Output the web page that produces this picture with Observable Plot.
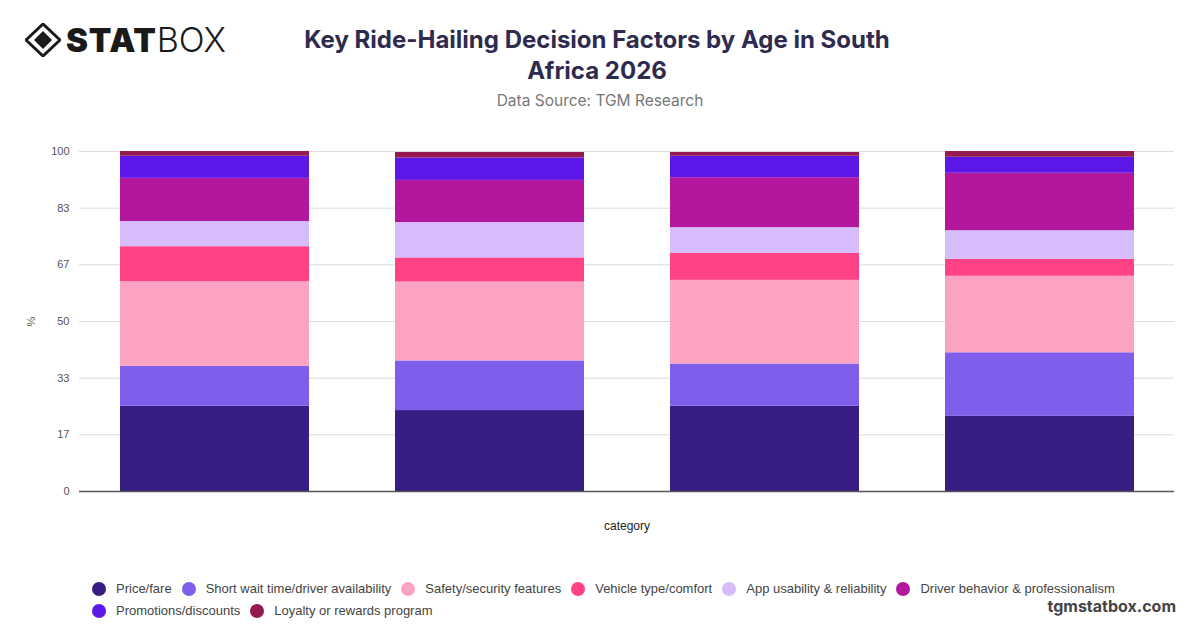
<!DOCTYPE html>
<html><head><meta charset="utf-8">
<script src="https://cdn.jsdelivr.net/npm/d3@7"></script>
<script src="https://cdn.jsdelivr.net/npm/@observablehq/plot@0.6"></script>
<style>
body{margin:0;width:1200px;height:628px;background:#fff;font-family:Inter,"Noto Sans",sans-serif;position:relative;overflow:hidden}
#logo{position:absolute;left:25px;top:22px;display:flex;align-items:center;gap:5px;color:#1a1a1a}
#logo .stat{font-size:33px;font-weight:900;letter-spacing:0.8px;line-height:36px}
#logo .box{font-size:34px;font-weight:300;line-height:36px;margin-left:-5px}
#title{position:absolute;left:287px;width:620px;top:24px;text-align:center;font-size:24px;font-weight:700;color:#2e2b4f;line-height:31px}
#sub{position:absolute;left:0;width:1200px;top:91px;text-align:center;font-size:15.5px;color:#777}
#chart{position:absolute;left:0;top:130px}
#legend{position:absolute;left:92px;top:580px;width:1040px;display:flex;flex-wrap:wrap;row-gap:5px;column-gap:10px;font-family:"Liberation Sans",Arial,sans-serif;font-size:13px;color:#444}
.item{display:flex;align-items:center;gap:10px;line-height:17px}
.dot{width:14px;height:14px;border-radius:50%}
#wm{position:absolute;right:24px;top:596px;font-size:16px;font-weight:700;color:#444}
</style></head>
<body>
<div id="logo">
<svg width="36" height="34" viewBox="0 0 36 34"><path d="M18 1 L35 17 L18 33 L1 17 Z" fill="none" stroke="#1a1a1a" stroke-width="3"/><path d="M18 8 L27 17 L18 26 L9 17 Z" fill="#1a1a1a"/></svg>
<span class="stat">STAT</span><span class="box">BOX</span>
</div>
<div id="title">Key Ride-Hailing Decision Factors by Age in South Africa 2026</div>
<div id="sub">Data Source: TGM Research</div>
<div id="chart"></div>
<div id="legend"></div>
<div id="wm">tgmstatbox.com</div>
<script>
const CATEGORIES = ["18-24", "25-34", "35-44", "45+"];
const FACTORS = ["Price/fare", "Short wait time/driver availability", "Safety/security features", "Vehicle type/comfort", "App usability & reliability", "Driver behavior & professionalism", "Promotions/discounts", "Loyalty or rewards program"];
const PRICE = [25.1, 23.8, 25.1, 22.1];
const SHORT_WAIT = [11.7, 14.6, 12.4, 18.7];
const SAFETY = [24.9, 23.2, 24.6, 22.5];
const VEHICLE = [10.3, 7.1, 7.9, 5.0];
const APP = [7.4, 10.4, 7.6, 8.4];
const DRIVER = [12.7, 12.4, 14.7, 16.9];
const PROMO = [6.5, 6.6, 6.3, 4.7];
const LOYALTY = [1.4, 1.6, 1.1, 1.7];
const Y_TICKS = [0, 100/6, 200/6, 50, 400/6, 500/6, 100];
const COLORS = ["#381d84", "#7e5eeb", "#fca3c3", "#ff4286", "#d6bcfa", "#b2179e", "#5e17e9", "#951a50"];

const SERIES = [PRICE, SHORT_WAIT, SAFETY, VEHICLE, APP, DRIVER, PROMO, LOYALTY];
const rows = [];
SERIES.forEach((vals, i) => vals.forEach((v, j) => rows.push({category: CATEGORIES[j], factor: FACTORS[i], value: v})));

const chart = Plot.plot({
  width: 1200, height: 410,
  marginLeft: 79, marginRight: 26, marginTop: 21, marginBottom: 49,
  style: {fontFamily: "'Liberation Sans', Arial, sans-serif", fontSize: "11px", color: "#555", background: "transparent"},
  x: {domain: CATEGORIES, paddingInner: 0.314, paddingOuter: 0.145},
  y: {domain: [0, 100]},
  color: {domain: FACTORS, range: COLORS},
  marks: [
    Plot.gridY(Y_TICKS, {stroke: "#dcdcdc", strokeOpacity: 1}),
    Plot.barY(rows, {x: "category", y: "value", fill: "factor"}),
    Plot.ruleY([0], {stroke: "#555", strokeWidth: 1.5}),
    Plot.axisY(Y_TICKS, {tickSize: 0, tickPadding: 10, tickFormat: d => String(Math.round(d)), label: "%", labelArrow: "none", labelAnchor: "center", labelOffset: 52}),
    Plot.axisX({tickSize: 0, tickFormat: () => "", label: "category", labelArrow: "none", labelAnchor: "center", labelOffset: 38, fill: "#222", fontSize: 12})
  ]
});
document.getElementById("chart").appendChild(chart);

const legend = document.getElementById("legend");
FACTORS.forEach((f, i) => {
  const it = document.createElement("div"); it.className = "item";
  const d = document.createElement("div"); d.className = "dot"; d.style.background = COLORS[i];
  const t = document.createElement("span"); t.textContent = f;
  it.appendChild(d); it.appendChild(t); legend.appendChild(it);
});
</script>
</body></html>
